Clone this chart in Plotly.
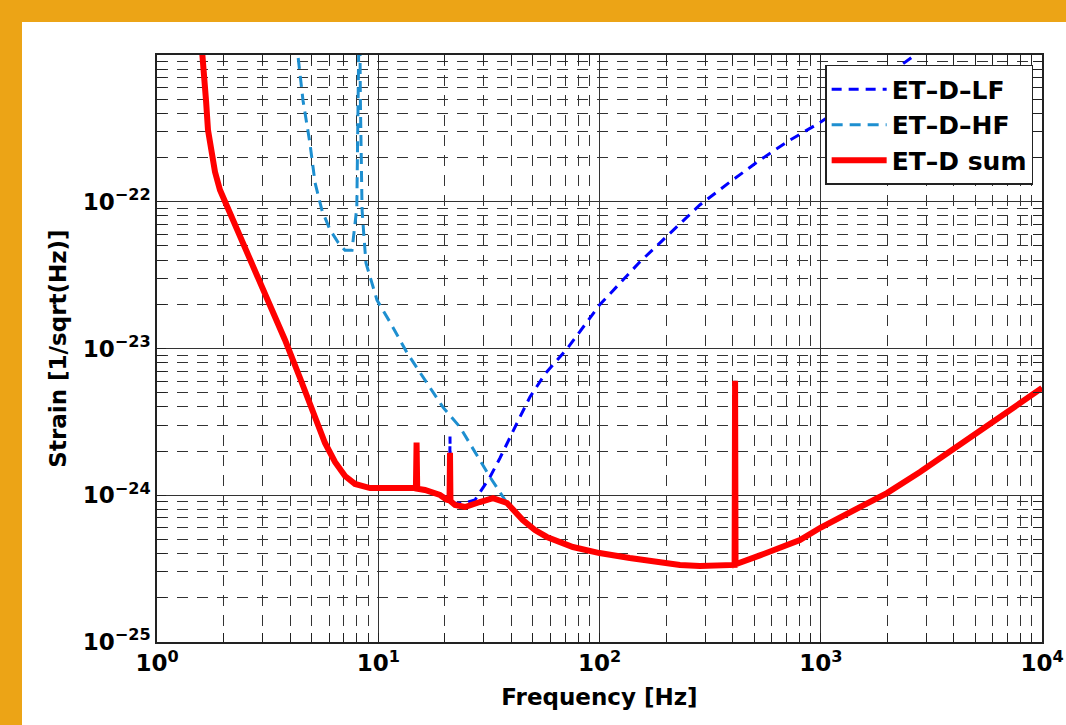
import plotly.graph_objects as go

# ---------------- data ----------------
# ET-D sum curve
sum_f = [1.597, 1.631, 1.665, 1.700, 1.754, 1.829, 1.926, 2.072, 2.372, 2.773, 3.242,
         3.789, 4.430, 5.177, 5.745, 6.375, 7.074, 7.851, 9.178, 11.30, 14.36, 14.8,
         14.9, 15.0, 16.26, 19.01, 20.4, 21.0, 21.1, 21.2, 22.23, 24.66, 28.8, 33.0,
         38.2, 45.0, 51.1, 57.8, 75.8, 100, 137, 169, 231, 284, 380, 408, 410, 412, 531,
         805, 1000, 1356, 1991, 2810, 3962, 6457, 10000]
sum_logh = [-20.966, -21.102, -21.307, -21.511, -21.661, -21.797, -21.920, -22.029,
            -22.227, -22.465, -22.704, -22.942, -23.201, -23.474, -23.644, -23.773,
            -23.869, -23.923, -23.951, -23.951, -23.944, -23.95, -23.64, -23.955, -23.964,
            -23.998, -24.03, -24.035, -23.71, -24.04, -24.066, -24.080, -24.046, -24.02,
            -24.053, -24.169, -24.237, -24.284, -24.353, -24.394, -24.428, -24.448,
            -24.475, -24.482, -24.478, -24.475, -23.22, -24.47, -24.41, -24.305, -24.22,
            -24.121, -23.985, -23.842, -23.69, -23.474, -23.269]

# ET-D-LF curve
lf_f = [1.597, 1.631, 1.665, 1.700, 1.754, 1.829, 1.926, 2.072, 2.372, 2.773, 3.242,
        3.789, 4.430, 5.177, 5.745, 6.375, 7.074, 7.851, 9.178, 11.30, 14.36, 14.8,
        14.9, 15.0, 16.26, 19.01, 20.4, 21.0, 21.1, 21.2, 22.23, 24.66, 27.36, 32.0,
        35.5, 39.4, 43.7, 48.5, 56.7, 71.3, 100, 152, 208, 284, 389, 531, 727, 1000,
        1504, 2360, 2668, 3119]
lf_logh = [-20.966, -21.102, -21.307, -21.511, -21.661, -21.797, -21.920, -22.029,
           -22.227, -22.465, -22.704, -22.942, -23.201, -23.474, -23.644, -23.773,
           -23.869, -23.923, -23.951, -23.951, -23.944, -23.95, -23.64, -23.955, -23.964,
           -23.995, -24.02, -24.025, -23.60, -24.03, -24.055, -24.053, -24.032, -23.876,
           -23.746, -23.603, -23.467, -23.330, -23.174, -23.003, -22.704, -22.411,
           -22.213, -22.022, -21.865, -21.716, -21.579, -21.457, -21.273, -21.055,
           -21.0, -20.93]

# ET-D-HF curve
hf_f = [4.2, 4.34, 4.57, 4.91, 5.18, 5.57, 6.05, 6.6, 7.07, 7.61, 8.0, 8.18, 8.23,
        8.30, 8.40, 8.45, 8.62, 8.80, 9.87, 11.3, 13.5, 16.26, 19.6, 23.4, 27.36, 32.0,
        38.2, 45.0, 51.1, 57.8, 75.8, 100, 137, 169, 231, 284, 380, 408, 410, 412, 531,
        805, 1000, 1356, 1991, 2810, 3962, 6457, 10000]
hf_logh = [-20.9, -21.01, -21.31, -21.60, -21.87, -22.06, -22.19, -22.28, -22.33, -22.33,
           -22.04, -21.0, -20.5, -21.3, -21.9, -22.056, -22.24, -22.417, -22.67, -22.82,
           -23.03, -23.215, -23.40, -23.535, -23.705, -23.876, -24.053, -24.169, -24.237,
           -24.284, -24.353, -24.394, -24.428, -24.448, -24.475, -24.482, -24.478,
           -24.475, -23.22, -24.47, -24.41, -24.305, -24.22, -24.121, -23.985, -23.842,
           -23.69, -23.474, -23.269]

x_tick_exp = [0, 1, 2, 3, 4]
y_tick_exp = [-25, -24, -23, -22]

# ---------------- figure ----------------
FONT = "DejaVu Sans, Verdana, sans-serif"


def to_h(logs):
    return [10 ** v for v in logs]


def sup(e):
    s = str(e).replace("-", "\u2212")
    return "<b>10<sup>" + s + "</sup></b>"


fig = go.Figure()
fig.add_trace(go.Scatter(x=lf_f, y=to_h(lf_logh), mode="lines", name="<b>ET\u2013D\u2013LF</b>",
                         line=dict(color="#0000FF", width=3, dash="10px,7px")))
fig.add_trace(go.Scatter(x=hf_f, y=to_h(hf_logh), mode="lines", name="<b>ET\u2013D\u2013HF</b>",
                         line=dict(color="#1E8FD0", width=3, dash="11px,7px")))
fig.add_trace(go.Scatter(x=sum_f, y=to_h(sum_logh), mode="lines", name="<b>ET\u2013D sum</b>",
                         line=dict(color="#FF0000", width=6)))

x_minor = [m * 10 ** e for e in range(0, 4) for m in range(2, 10)]
y_minor = [m * 10 ** e for e in range(-25, -21) for m in range(2, 10)]

axis_common = dict(
    type="log",
    showline=True, linecolor="#222222", linewidth=1.5, mirror="allticks",
    ticks="inside", ticklen=9, tickwidth=1, tickcolor="#222222",
    showgrid=True, gridcolor="#333333", gridwidth=1,
    zeroline=False,
    tickfont=dict(family=FONT, size=23, color="black"),
    title_font=dict(family=FONT, size=23, color="black"),
)

fig.update_xaxes(
    **axis_common,
    range=[0, 4],
    tickmode="array",
    tickvals=[10 ** e for e in x_tick_exp],
    ticktext=[sup(e) for e in x_tick_exp],
    minor=dict(tickmode="array", tickvals=x_minor, ticks="inside", ticklen=9,
               tickcolor="#222222", showgrid=True, gridcolor="#333333",
               griddash="11px,9px", gridwidth=1),
    title=dict(text="<b>Frequency [Hz]</b>", standoff=14),
)
fig.update_yaxes(
    **axis_common,
    range=[-25, -21],
    tickmode="array",
    tickvals=[10 ** e for e in y_tick_exp],
    ticktext=[sup(e) for e in y_tick_exp],
    minor=dict(tickmode="array", tickvals=y_minor, ticks="inside", ticklen=9,
               tickcolor="#222222", showgrid=True, gridcolor="#333333",
               griddash="11px,9px", gridwidth=1),
    title=dict(text="<b>Strain [1/sqrt(Hz)]</b>", standoff=10),
)

# white panel on orange background
fig.add_shape(type="rect", xref="paper", yref="paper", layer="below",
              x0=(22 - 157) / 885, x1=1.2, y0=-0.3, y1=(642 - 22) / 587,
              fillcolor="white", line=dict(width=0))

fig.update_layout(
    width=1066, height=725,
    margin=dict(l=157, r=24, t=55, b=83, autoexpand=False),
    paper_bgcolor="#ECA416",
    plot_bgcolor="white",
    showlegend=True,
    legend=dict(x=0.99, y=0.983, xanchor="right", yanchor="top",
                bgcolor="white", bordercolor="#222222", borderwidth=1.5,
                font=dict(family=FONT, size=25, color="black"),
                itemwidth=55, tracegroupgap=0),
    font=dict(family=FONT, color="black"),
)

fig.write_html("out.html", config={"displayModeBar": False},
               post_script="document.body.style.margin='0';")
